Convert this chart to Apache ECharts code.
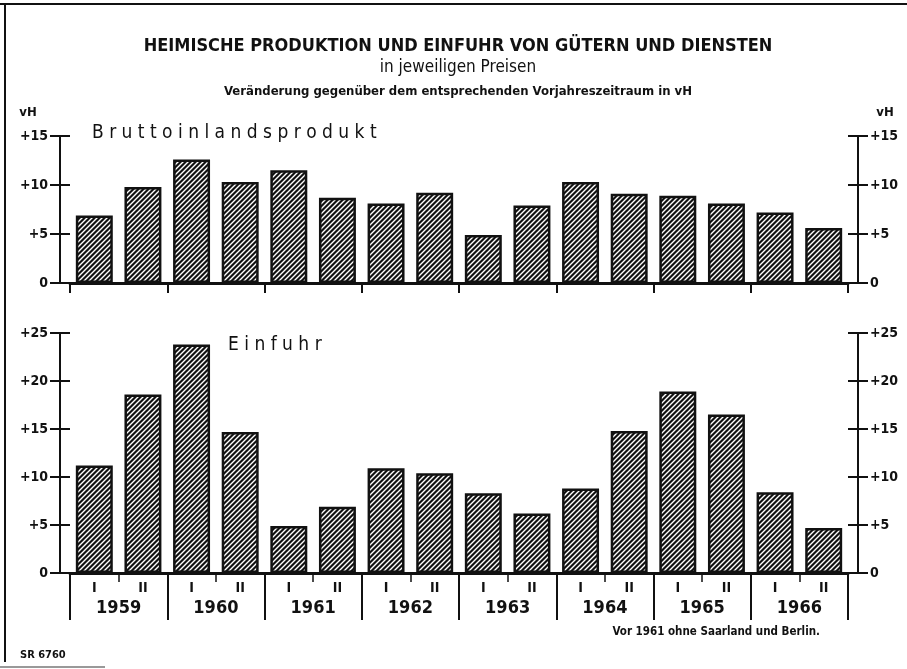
<!DOCTYPE html>
<html>
  <head>
    <meta charset="utf-8">
    <title>Heimische Produktion und Einfuhr</title>
    <style>
      html, body { margin: 0; padding: 0; background: #fff; }
      #chart { width: 907px; height: 669px; }
    </style>
  </head>
  <body>
    <div id="chart"></div>
    <script src="https://cdn.jsdelivr.net/npm/echarts@6/dist/echarts.min.js"></script>
    <script>
      // Data (vH gegenüber Vorjahreszeitraum)
      var halfYears = ['I', 'II', 'I', 'II', 'I', 'II', 'I', 'II', 'I', 'II', 'I', 'II', 'I', 'II', 'I', 'II'];
      var years = ['1959', '1960', '1961', '1962', '1963', '1964', '1965', '1966'];
      var bipValues = [6.9, 9.8, 12.6, 10.3, 11.5, 8.7, 8.1, 9.2, 4.9, 7.9, 10.3, 9.1, 8.9, 8.1, 7.2, 5.6];
      var einfuhrValues = [11.2, 18.6, 23.8, 14.7, 4.9, 6.9, 10.9, 10.4, 8.3, 6.2, 8.8, 14.8, 18.9, 16.5, 8.4, 4.7];
      var bipTicks = [0, 15, 5];
      var einfuhrTicks = [0, 25, 5];

      var FONT = '"Liberation Sans Narrow", "DejaVu Sans Condensed", "Liberation Sans", sans-serif';
      var INK = '#111';

      // diagonal hatch for the bars
      var hatch = document.createElement('canvas');
      hatch.width = 5;
      hatch.height = 5;
      var g = hatch.getContext('2d');
      g.fillStyle = INK;
      g.fillRect(0, 0, 5, 5);
      g.strokeStyle = '#fff';
      g.lineWidth = 1.4;
      g.beginPath();
      g.moveTo(-1, 6); g.lineTo(6, -1);
      g.moveTo(-1, 1); g.lineTo(1, -1);
      g.moveTo(4, 6); g.lineTo(6, 4);
      g.stroke();

      var plusFmt = function(v) { return v > 0 ? '+' + v : '' + v; };

      var valueAxis = function(grid, ticks, pos, labelled) {
        return {
          type: 'value', gridIndex: grid, position: pos, offset: 10,
          min: ticks[0], max: ticks[1], interval: ticks[2],
          splitLine: { show: false },
          axisLine: { show: labelled, lineStyle: { color: INK, width: 2 } },
          axisTick: { show: true, inside: !labelled, length: 10, lineStyle: { color: INK, width: 2 } },
          axisLabel: {
            show: labelled, formatter: plusFmt, margin: 12,
            color: INK, fontFamily: FONT, fontWeight: 'bold', fontSize: 14
          }
        };
      };

      var text = function(str, x, y, size, weight, align) {
        return {
          type: 'text', x: x, y: y,
          style: {
            text: str, fill: INK, fontFamily: FONT, fontSize: size,
            fontWeight: weight || 'normal', textAlign: align || 'center', textVerticalAlign: 'middle'
          }
        };
      };
      var line = function(x1, y1, x2, y2, w, c) {
        return { type: 'line', shape: { x1: x1, y1: y1, x2: x2, y2: y2 }, style: { stroke: c || INK, lineWidth: w } };
      };

      var chart = echarts.init(document.getElementById('chart'));
      chart.setOption({
        animation: false,
        backgroundColor: '#fff',
        grid: [
          { left: 70, right: 59, top: 136, height: 147 },
          { left: 70, right: 59, top: 333, height: 240 }
        ],
        xAxis: [
          {
            type: 'category', gridIndex: 0, data: halfYears,
            axisLine: { lineStyle: { color: INK, width: 3 } },
            axisTick: { show: false }, axisLabel: { show: false }
          },
          {
            type: 'category', gridIndex: 0, data: years, position: 'bottom',
            axisLine: { show: false },
            axisTick: { show: true, length: 10, interval: 0, lineStyle: { color: INK, width: 2 } },
            axisLabel: { show: false }
          },
          {
            type: 'category', gridIndex: 1, data: halfYears,
            axisLine: { lineStyle: { color: INK, width: 3 } },
            axisTick: { show: true, length: 9, interval: 0, lineStyle: { color: INK, width: 1.5 } },
            axisLabel: { interval: 0, margin: 8, color: INK, fontFamily: FONT, fontWeight: 'bold', fontSize: 14 }
          },
          {
            type: 'category', gridIndex: 1, data: years, position: 'bottom',
            axisLine: { show: false },
            axisTick: { show: true, length: 47, interval: 0, lineStyle: { color: INK, width: 2 } },
            axisLabel: { interval: 0, margin: 26, color: INK, fontFamily: FONT, fontWeight: 'bold', fontSize: 18 }
          }
        ],
        yAxis: [
          valueAxis(0, bipTicks, 'left', true),
          valueAxis(0, bipTicks, 'left', false),
          valueAxis(0, bipTicks, 'right', true),
          valueAxis(0, bipTicks, 'right', false),
          valueAxis(1, einfuhrTicks, 'left', true),
          valueAxis(1, einfuhrTicks, 'left', false),
          valueAxis(1, einfuhrTicks, 'right', true),
          valueAxis(1, einfuhrTicks, 'right', false)
        ],
        series: [
          {
            name: 'Bruttoinlandsprodukt', type: 'bar', xAxisIndex: 0, yAxisIndex: 0,
            data: bipValues, barWidth: '76%',
            itemStyle: { color: { image: hatch, repeat: 'repeat' }, borderColor: INK, borderWidth: 2.5 }
          },
          {
            name: 'Einfuhr', type: 'bar', xAxisIndex: 2, yAxisIndex: 4,
            data: einfuhrValues, barWidth: '76%',
            itemStyle: { color: { image: hatch, repeat: 'repeat' }, borderColor: INK, borderWidth: 2.5 }
          }
        ],
        graphic: [
          line(0, 4, 907, 4, 2),
          line(5, 4, 5, 662, 2),
          line(0, 667, 105, 667, 2, '#999'),
          text('HEIMISCHE PRODUKTION UND EINFUHR VON GÜTERN UND DIENSTEN', 458, 46, 18, 'bold'),
          text('in jeweiligen Preisen', 458, 68, 17, 'normal'),
          text('Veränderung gegenüber dem entsprechenden Vorjahreszeitraum in vH', 458, 92, 13, 'bold'),
          text('vH', 28, 113, 13, 'bold'),
          text('vH', 885, 113, 13, 'bold'),
          text('B r u t t o i n l a n d s p r o d u k t', 92, 133, 19, 'normal', 'left'),
          text('E i n f u h r', 228, 345, 19, 'normal', 'left'),
          text('Vor 1961 ohne Saarland und Berlin.', 820, 632, 11.5, 'bold', 'right'),
          text('SR 6760', 20, 655, 11, 'bold', 'left')
        ]
      });
    </script>
  </body>
</html>
